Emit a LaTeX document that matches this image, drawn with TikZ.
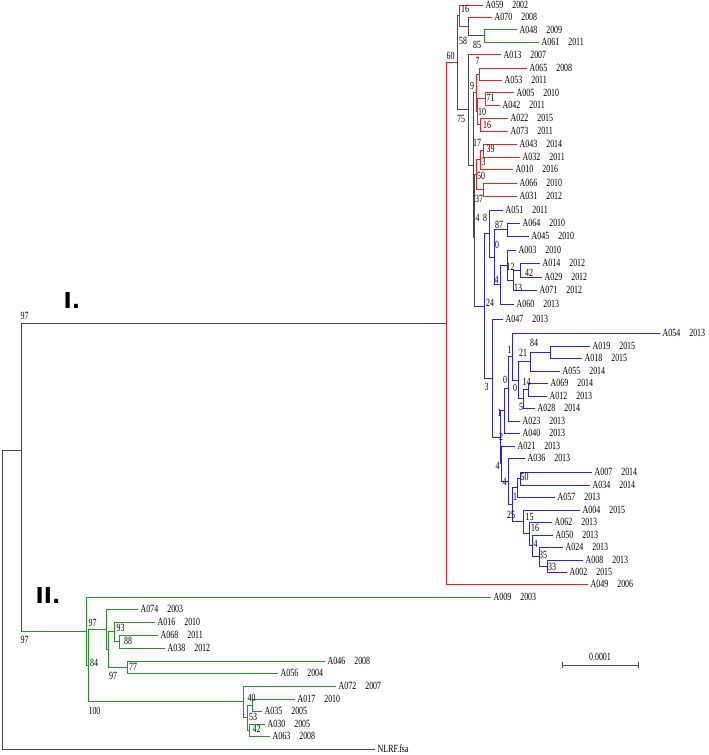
\documentclass[tikz,border=0pt]{standalone}
\usepackage{fontspec}
\newfontfamily\treefont[FakeStretch=0.72]{Liberation Serif}
\newfontfamily\cladefont{DejaVu Sans}
\usetikzlibrary{calc}

\definecolor{brred}{RGB}{240,30,30}
\definecolor{brblue}{RGB}{35,35,235}
\definecolor{brgreen}{RGB}{40,145,40}
\definecolor{brgray}{RGB}{70,70,70}

\tikzset{
  branch/.style={line width=1pt},
  leaf/.style={anchor=west,inner xsep=2.5pt,inner ysep=0pt,font=\treefont\fontsize{11}{11}\selectfont},
  boot/.style={inner sep=0pt,font=\treefont\fontsize{11}{11}\selectfont},
  clade/.style={inner sep=0pt,font=\cladefont\bfseries\fontsize{22}{22}\selectfont}
}

\begin{document}
\begin{tikzpicture}[x=1pt,y=-1pt]
\useasboundingbox (0,0) rectangle (709,755);

% leaf tips: name/year/y/end of branch
\foreach \n/\yr/\y/\x in {A059/2002/5/483, A070/2008/17/492, A048/2009/29.5/517, A061/2011/42/539,
  A013/2007/54.5/501, A065/2008/68/527, A053/2011/80/502, A005/2010/92.5/514, A042/2011/105/500,
  A022/2015/118/508, A073/2011/131/508, A043/2014/144/517, A032/2011/157/520, A010/2016/169/513,
  A066/2010/183/517, A031/2012/196/517, A051/2011/210/503, A064/2010/223/520, A045/2010/236/529,
  A003/2010/250/516, A014/2012/263/540, A029/2012/277/542, A071/2012/290/537, A060/2013/304/514,
  A047/2013/319/503, A054/2013/333/660, A019/2015/346/590, A018/2015/358/582, A055/2014/371/560,
  A069/2014/383/548, A012/2013/396/547, A028/2014/408/535, A023/2013/421/520, A040/2013/433/520,
  A021/2013/446/515, A036/2013/458/525, A007/2014/472/592, A034/2014/485/590, A057/2013/497/555,
  A004/2015/510/580, A062/2013/522/552, A050/2013/535/553, A024/2013/547/563, A008/2013/560/583,
  A002/2015/572/567, A049/2006/584/588, A009/2003/597/491, A074/2003/609/138, A016/2010/622/155,
  A068/2011/635/158, A038/2012/648/165, A046/2008/661/325, A056/2004/673/278, A072/2007/686/336,
  A017/2010/699/295, A035/2005/711/262, A030/2005/724/265, A063/2008/736/270}
{
  \coordinate (\n) at (\x,\y);
  \node[leaf] (l\n) at (\n) {\n\hspace{9pt}\yr};
}
\coordinate (nlrf) at (375,749);
\node[leaf] (lnlrf) at (nlrf) {NLRF.fsa};

% inner nodes
\foreach \n/\x/\y in {r0/2/600, r2/21/450, nI/446/323.4,
  n60/457/62.8, n16/459/15.7, n58/468/26.4, n85/484.5/35.75, n75/468/109.9, n9/473/165.3,
  nab/476/92.8, n7/479/74, n10/477/111.6, n71/485/98.75, n16b/480/124.5,
  n17/474/237.8, n50/476/174.6, n3/480/159.75, n39/483/150.5, n37/483/189.5,
  n24/484/306.1, n8/489/233.5, n0/494/257, n87/507/229.5, n4u/500/284.5, n12/507/265,
  n13/513/280, n42/520/270, n3b/492/378.2, n2/500/437.3, nz1/504/410.9, ny0/508/388.8,
  nx1/512/356.6, n0a/518/380.1, n21/530/361.5, n84/550/352, n5/523/398.75, n14/528/389.5,
  n4a/501/463.7, n4b/508/481.4, n25/512/504.8, n1c/517/487.75, n50b/520/478.5,
  n15/523/521.9, n16c/529/533.9, n4c/532/545.75, n35/539/556.5, n33/547/566,
  nX/86/631.25, nY/88/665.5, nS1/106/629.2, nZ/108/649.4, nC1/114/631.75, n88/119/641.5,
  nC2/127/667, nS2/243/701.75, nW/247/717.5, nV1/252/705, nV2/249/730}
  \coordinate (\n) at (\x,\y);

% grey backbone
\foreach \p/\c in {r0/r2, r0/nlrf, r2/nI, n60/n16, n60/n75, n58/n85, n75/n9, n9/n17}
  \draw[branch,brgray] (\p) |- (\c);
\foreach \p/\c/\col in {r2/nX/brgreen, n58/A070/brred, n75/A013/brred, n9/nab/brred,
  n17/n50/brred, n17/n24/brblue}
{
  \draw[branch,brgray] (\p) -- (\p |- \c);
  \draw[branch,\col] (\p |- \c) -- (\c);
}

% red
\foreach \p/\c in {nI/n60, nI/A049, n16/A059, n16/n58, nab/n7, nab/n10, n7/A065, n7/A053,
  n10/n71, n10/n16b, n71/A005, n71/A042, n16b/A022, n16b/A073, n50/n3, n50/n37,
  n3/n39, n3/A010, n39/A043, n39/A032, n37/A066, n37/A031}
  \draw[branch,brred] (\p) |- (\c);

% green
\foreach \p/\c in {n85/A048, n85/A061, nX/A009, nX/nY, nY/nS1, nY/nS2, nS1/A074, nS1/nZ,
  nZ/nC1, nZ/nC2, nC1/A016, nC1/n88, n88/A068, n88/A038, nC2/A046, nC2/A056,
  nS2/A072, nS2/nW, nW/nV1, nW/nV2, nV1/A017, nV1/A035, nV2/A030, nV2/A063}
  \draw[branch,brgreen] (\p) |- (\c);

% blue
\foreach \p/\c in {n24/n8, n24/n3b, n8/A051, n8/n0, n0/n87, n0/n4u, n87/A064, n87/A045,
  n4u/n12, n4u/A060, n12/A003, n12/n13, n13/n42, n13/A071, n42/A014, n42/A029,
  n3b/A047, n3b/n2, n2/nz1, n2/n4a, nz1/ny0, nz1/A040, ny0/nx1, ny0/A023,
  nx1/A054, nx1/n0a, n0a/n21, n0a/n5, n21/n84, n21/A055, n84/A019, n84/A018,
  n5/n14, n5/A028, n14/A069, n14/A012, n4a/A021, n4a/n4b, n4b/A036, n4b/n25,
  n25/n1c, n25/n15, n1c/n50b, n1c/A057, n50b/A007, n50b/A034, n15/A004, n15/n16c,
  n16c/A062, n16c/n4c, n4c/A050, n4c/n35, n35/A024, n35/n33, n33/A008, n33/A002}
  \draw[branch,brblue] (\p) |- (\c);

% bootstrap values
\foreach \t/\x/\y [count=\k] in {16/465/9, 58/463/41, 85/477/45, 60/450.5/56, 7/477.5/61,
  9/472/86, 71/490.5/98, 10/482/112, 75/461/119, 16/487/125, 17/477/143, 39/490.5/149,
  3/483.5/162, 50/481/176, 37/479/199, 4/477.5/218, 8/485/218, 87/499/225, 0/497/245,
  12/510.5/267, 42/529/273, 4/496.5/280, 13/518/288, 24/490/303, 84/534/343, 1/509.5/350,
  21/523/353, 0/505/380, 14/526.5/382, 3/486.5/387, 0/515/388, 5/521/407, 1/499.5/413,
  2/501/437, 4/497.5/466, 50/524.5/477, 4/504.5/482, 1/515/497, 25/511/515, 15/529.5/517,
  16/535/528, 4/535.5/544, 35/543/555, 33/552/567,
  97/24.5/316, 97/24.5/640, 97/92.5/623, 84/94/663, 100/94.5/711, 93/120.5/628, 88/128/641,
  77/133/667, 97/113/676, 40/251.5/698, 53/253/717, 42/256.5/729}
  \node[boot] (b\k) at (\x,\y) {\t};

\node[clade] (cI) at (72,300) {I.};
\node[clade] (cII) at (48,595.5) {II.};

% scale bar
\coordinate (sbL) at (562,665);
\coordinate (sbR) at (638,665);
\draw[brgray,line width=0.8pt] (sbL) -- (sbR);
\draw[brgray,line width=0.8pt] ($(sbL)+(0,-3)$) -- ($(sbL)+(0,3)$);
\draw[brgray,line width=0.8pt] ($(sbR)+(0,-3)$) -- ($(sbR)+(0,3)$);
\node[boot] (sblab) at (600,657) {0.0001};
\end{tikzpicture}
\end{document}
